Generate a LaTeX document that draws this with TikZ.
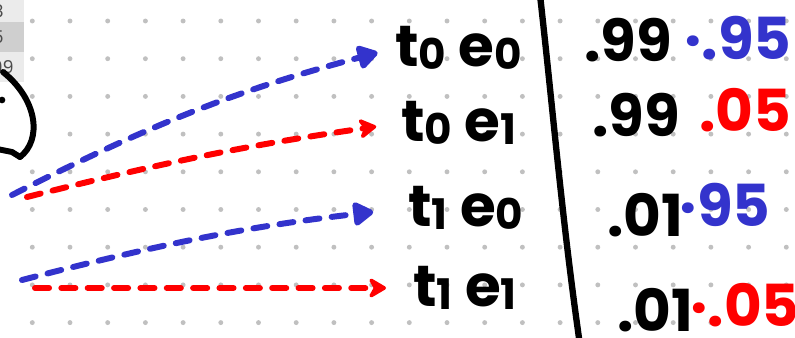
\documentclass[tikz,border=0pt]{standalone}
\usepackage{fontspec}
\setmainfont{Poppins}
\usepackage{tikz}
\usetikzlibrary{arrows.meta,positioning}
\definecolor{penblue}{RGB}{51,51,204}
\definecolor{penred}{RGB}{255,0,0}
\definecolor{dotgray}{RGB}{192,192,192}
\newcommand\lowidx[1]{\raisebox{-0.05em}{\fontsize{24}{24}\selectfont #1}}

\begin{document}
\begin{tikzpicture}[
    x=0.02cm, y=-0.02cm,
    hand/.style={inner sep=0pt, font=\fontsize{33}{33}\selectfont\bfseries},
    pen/.style={line width=3.4pt, line cap=round, dash pattern=on 8pt off 7pt},
    bluepen/.style={pen, penblue, -{Triangle[round,length=13pt,width=15pt]}},
    redpen/.style={pen, penred, -{Stealth[round,length=12pt,width=14pt]}},
    cellnum/.style={inner sep=0pt, anchor=east, font=\fontsize{10}{10}\selectfont, text=black!70}
]
\useasboundingbox (0,0) rectangle (795,338);

% table corner
\fill[black!8] (0,0) rectangle (24,22);
\fill[black!19] (0,22) rectangle (24,52);
\fill[black!8] (0,52) rectangle (24,82);
\begin{scope}
\clip (0,0) rectangle (24,82);
\node[cellnum] (c8) at (4,11) {8};
\node[cellnum] (c5) at (4,37) {5};
\node[cellnum] (c99) at (14,67) {99};
\end{scope}

% dot grid
\foreach \i in {0,...,20}
  \foreach \j in {0,...,8}
    \fill[dotgray] (32.3+37.7*\i, 21+37.7*\j) circle (1.4pt);

\draw[line width=3.4pt, line cap=round] (3,72) .. controls (38,100) and (42,140) .. (20,157);
\draw[line width=3.4pt, line cap=round] (-3,149) -- (12,152) -- (20,157);
\fill (2,100) circle (1.9pt);

\node[hand, anchor=west] (t0e0) at (395,48) {t\lowidx{0} e\lowidx{0}};
\node[hand, anchor=west] (t0e1) at (401,123) {t\lowidx{0} e\lowidx{1}};
\node[hand, anchor=west] (t1e0) at (408,208) {t\lowidx{1} e\lowidx{0}};
\node[hand, anchor=west] (t1e1) at (413,288) {t\lowidx{1} e\lowidx{1}};

\coordinate (b0) at (12,195);
\coordinate (r0) at (27,197);
\coordinate (b1) at (22,280);
\coordinate (r1) at (35,288);

\draw[bluepen, shorten >=0.36cm] (b0) to[bend left=6] (t0e0.west);
\draw[redpen, shorten >=0.5cm] (r0) to[bend left=3] (t0e1.west);
\draw[bluepen, shorten >=0.7cm] (b1) to[bend left=4] (t1e0.west);
\draw[redpen, shorten >=0.54cm] (r1) -- (t1e1.west);

\coordinate (sepTop) at (540,-5);
\coordinate (sepBot) at (580,345);
\draw[line width=3.6pt] (sepTop) .. controls (553,110) and (562,220) .. (sepBot);

\node[hand] (p00) at (628,40) {.99};
\node[hand] (p01) at (636,115) {.99};
\node[hand] (p10) at (645,215) {.01};
\node[hand] (p11) at (655,310) {.01};

\node[hand, text=penblue] (q00) at (738,38) {·.95};
\node[hand, text=penred] (q01) at (745,110) {.05};
\node[hand, text=penblue] (q10) at (725,205) {·95};
\node[hand, text=penred] (q11) at (745,305) {·.05};
\end{tikzpicture}
\end{document}
